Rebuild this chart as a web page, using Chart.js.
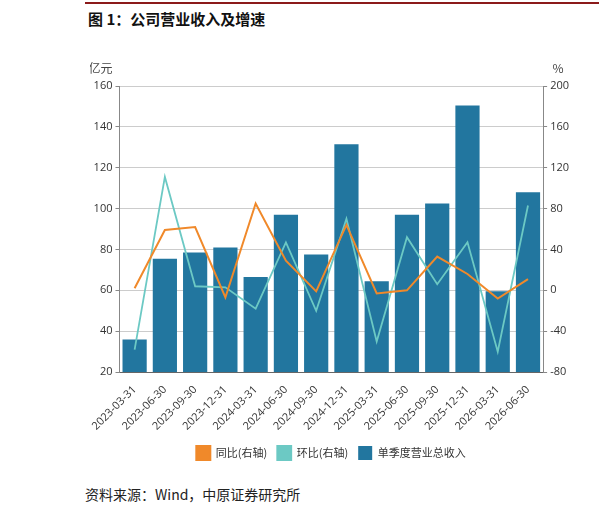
<!DOCTYPE html>
<html><head><meta charset="utf-8">
<script src="https://cdn.jsdelivr.net/npm/chart.js@4"></script>
<style>
body{margin:0;width:599px;height:514px;background:#fff;font-family:"Noto Sans CJK SC",sans-serif;position:relative;overflow:hidden}
#top{position:absolute;left:85px;top:2px;width:514px;height:2px;background:#8b1a1a}
#title{position:absolute;left:88px;top:8px;font-size:15px;font-weight:bold;color:#111}
#wrap{position:absolute;left:90px;top:52px;width:490px;height:418px}
#src{position:absolute;left:85px;top:484px;font-size:14px;color:#222}
</style></head><body>
<div id="top"></div><div id="title">图 1：公司营业收入及增速</div>
<div id="wrap"><canvas id="c"></canvas></div>
<div id="src">资料来源：Wind，中原证券研究所</div>
<script>
const labels = ['2023-03-31','2023-06-30','2023-09-30','2023-12-31','2024-03-31','2024-06-30','2024-09-30','2024-12-31','2025-03-31','2025-06-30','2025-09-30','2025-12-31','2026-03-31','2026-06-30'];
const revenue = [36, 75.5, 78.5, 81, 66.5, 97, 77.5, 131.5, 64.5, 97, 102.5, 150.5, 59.5, 108];
const yoy = [2, 59, 62, -7, 85, 29, -1, 64, -3, 0, 33, 16, -8, 11];
const qoq = [-58, 111, 4, 3, -18, 47, -20, 70, -50, 52, 6, 47, -60, 83];
const tickFont = {family:'"Open Sans", sans-serif', size:11};
new Chart(document.getElementById('c'), {
  data: {labels, datasets: [
    {type:'bar', label:'单季度营业总收入', data:revenue, yAxisID:'y', backgroundColor:'#22769f', categoryPercentage:0.8, barPercentage:1, order:3},
    {type:'line', label:'同比(右轴)', data:yoy, yAxisID:'y1', borderColor:'#f0892a', borderWidth:2, pointRadius:0, tension:0, order:1},
    {type:'line', label:'环比(右轴)', data:qoq, yAxisID:'y1', borderColor:'#6cc9c4', borderWidth:1.8, pointRadius:0, tension:0, order:2}
  ]},
  options: {
    responsive:true, maintainAspectRatio:false, animation:false,
    layout:{padding:{top:34, right:8, left:0, bottom:0}},
    plugins:{
      legend:{position:'bottom', labels:{boxWidth:14, boxHeight:14, font:{size:11, family:'"Noto Sans CJK SC"'}, color:'#333',
        generateLabels(chart){ const items = Chart.defaults.plugins.legend.labels.generateLabels(chart);
          items.forEach(i=>{ const ds = chart.data.datasets[i.datasetIndex]; if(ds.type==='line'){ i.fillStyle=ds.borderColor; } }); return items; }}},
      tooltip:{enabled:false}
    },
    scales:{
      x:{grid:{display:false}, border:{color:'#666'}, ticks:{maxRotation:45, minRotation:45, font:tickFont, color:'#333'}},
      y:{position:'left', min:20, max:160, ticks:{stepSize:20, font:tickFont, color:'#333'}, border:{color:'#888'},
         grid:{color:'#ccc', tickLength:4, tickColor:'#888'}},
      y1:{position:'right', min:-80, max:200, ticks:{stepSize:40, font:tickFont, color:'#333'}, border:{color:'#888'},
         grid:{drawOnChartArea:false, tickLength:4, tickColor:'#888'}}
    }
  },
  plugins:[{id:'units', beforeDatasetsDraw(chart){ }, afterDraw(chart){ const c=chart.ctx; c.save(); c.font='12px "Noto Sans CJK SC"'; c.fillStyle='#444';
    c.textAlign='center'; c.fillText('亿元', chart.scales.y.left+10, chart.chartArea.top-18);
    c.fillText('%', chart.scales.y1.right-14, chart.chartArea.top-18); c.restore(); }}]
});
Chart.defaults.borderColor = '#ccc';
</script></body></html>
